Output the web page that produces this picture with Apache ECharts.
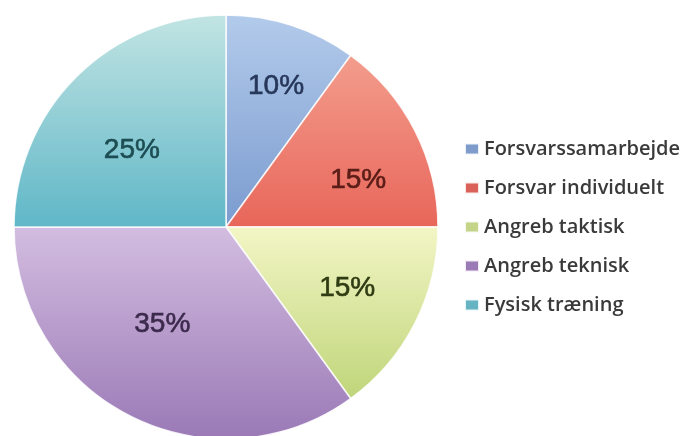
<!DOCTYPE html>
<html>
<head>
<meta charset="utf-8">
<script src="https://cdn.jsdelivr.net/npm/echarts@6/dist/echarts.min.js"></script>
<style>
  html, body { margin: 0; padding: 0; background: #ffffff; }
  #chart { width: 689px; height: 436px; }
</style>
</head>
<body>
<div id="chart"></div>
<script>
// Training time split by category (percent)
const categories = ['Forsvarssamarbejde', 'Forsvar individuelt', 'Angreb taktisk', 'Angreb teknisk', 'Fysisk træning'];
const shares = [10, 15, 15, 35, 25];

// Slice fills: lighter tone at the top, deeper tone at the bottom
const topColors = ['#b3cbeb', '#f39d8d', '#f3f6c6', '#d3bde0', '#c2e4e3'];
const bottomColors = ['#7b9bcf', '#e8665a', '#bfd579', '#9a79b6', '#5fb7c7'];
const labelColors = ['#26375a', '#5a1c16', '#2f3b12', '#3b2a4c', '#1d4c53'];
const legendColors = ['#7f9bcc', '#d9625a', '#c4d58a', '#9b7bb5', '#66b3c2'];
// Small per-slice nudges for the percentage labels (px)
const labelNudge = [[8, -11], [11, 15], [0, 0], [-2, -24], [2, 19]];

const chart = echarts.init(document.getElementById('chart'));

const fillData = categories.map((name, i) => ({
  name,
  value: shares[i],
  itemStyle: {
    color: new echarts.graphic.LinearGradient(0, 0, 0, 1, [
      { offset: 0, color: topColors[i] },
      { offset: 1, color: bottomColors[i] }
    ])
  }
}));

const labelData = categories.map((name, i) => ({
  name,
  value: shares[i],
  label: { color: labelColors[i], textBorderColor: labelColors[i], offset: labelNudge[i] }
}));

chart.setOption({
  backgroundColor: '#ffffff',
  animation: false,
  legend: {
    orient: 'vertical',
    left: 464,
    top: 139,
    padding: 0,
    icon: 'rect',
    itemWidth: 14,
    itemHeight: 11,
    itemGap: 19,
    data: categories.map((name, i) => ({ name, itemStyle: { color: legendColors[i] } })),
    textStyle: {
      fontFamily: '"Open Sans", sans-serif',
      fontSize: 20,
      fontWeight: 600,
      lineHeight: 20,
      color: '#3a3a3a'
    }
  },
  series: [
    {
      name: 'fill',
      type: 'pie',
      center: [226, 227],
      radius: [0, 212],
      startAngle: 90,
      clockwise: true,
      silent: true,
      label: { show: false },
      labelLine: { show: false },
      itemStyle: { borderColor: 'rgba(255,255,255,0.85)', borderWidth: 1.5 },
      data: fillData
    },
    {
      name: 'labels',
      type: 'pie',
      center: [226, 227],
      radius: [0, 266],
      startAngle: 90,
      clockwise: true,
      silent: true,
      legendHoverLink: false,
      itemStyle: { color: 'rgba(0,0,0,0)', borderWidth: 0 },
      emphasis: { disabled: true },
      labelLine: { show: false },
      label: {
        show: true,
        position: 'inside',
        formatter: '{c}%',
        fontFamily: '"Liberation Sans", Arial, sans-serif',
        fontSize: 28,
        fontWeight: 'normal',
        textBorderWidth: 0.6
      },
      data: labelData
    }
  ]
});
</script>
</body>
</html>
